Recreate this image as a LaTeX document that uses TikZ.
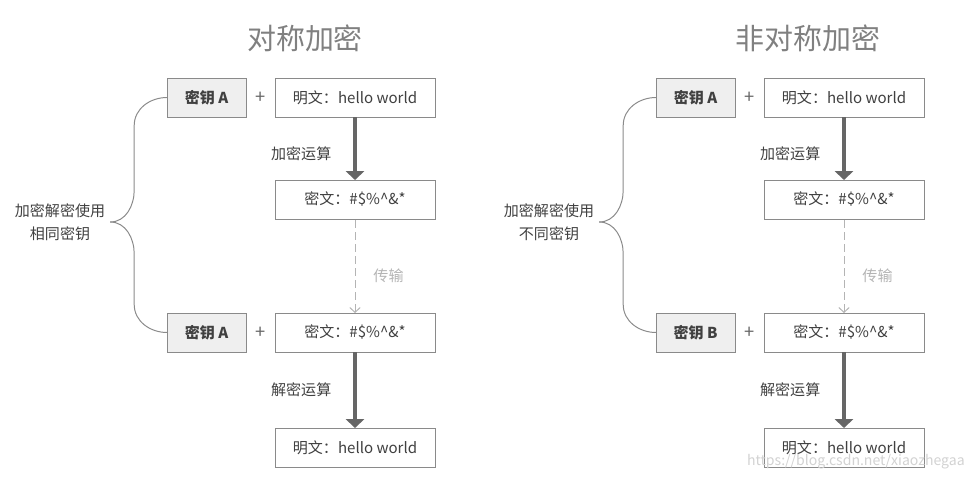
\documentclass[tikz,border=0pt]{standalone}
\usepackage{fontspec}
\setmainfont{Noto Sans CJK SC}
\usepackage{tikz}
\usetikzlibrary{arrows.meta,positioning,calc}
\definecolor{ink}{HTML}{404040}
\definecolor{boxline}{HTML}{8A8A8A}
\definecolor{keyfill}{HTML}{EFEFEF}
\definecolor{arrowgray}{HTML}{666666}
\definecolor{dashgray}{HTML}{B4B4B4}
\definecolor{titlegray}{HTML}{808080}
\definecolor{wmgray}{HTML}{D2D2D2}
\newcommand{\boxfont}{\fontsize{10.7}{16.3}\selectfont}

\begin{document}
\begin{tikzpicture}

\tikzset{
	txt/.style={
		draw=boxline,
		rectangle,
		line width=0.7pt,
		fill=white,
		text=ink,
		font=\boxfont,
		minimum width=4cm,
		minimum height=0.975cm,
		inner sep=0pt,
		outer sep=0pt},
	key/.style={
		txt,
		fill=keyfill,
		minimum width=1.975cm,
		font=\boxfont\bfseries},
	plus/.style={
		text=arrowgray,
		font=\fontsize{13}{13}\selectfont,
		inner sep=0pt},
	ttl/.style={
		text=titlegray,
		font=\fontsize{20.6}{24}\selectfont},
	lbl/.style={
		text=ink,
		font=\boxfont,
		inner sep=0pt},
	arrin/.style={
		{Triangle[length=0.22cm,width=0.45cm]}-,
		line width=2.4pt,
		draw=arrowgray},
	arrdash/.style={
		{Straight Barb[length=0.12cm,width=0.26cm]}-,
		draw=dashgray,
		line width=0.7pt,
		dash pattern=on 0.2cm off 0.1cm},
	brace/.style={
		draw=boxline,
		line width=0.7pt}
}

\useasboundingbox (0,0) rectangle (24.35,-12.075);

% symmetric
\node[ttl] (titleA) at (7.625,-0.95) {对称加密};

\node[txt] (plainA) at (8.875,-2.4375) {明文：hello world};
\node[key,left=0.725cm of plainA] (keyA) {密钥 A};
\node[plus] (plusA) at ($(keyA.east)!0.5!(plainA.west)$) {+};

\node[txt,below=1.575cm of plainA] (cipherA) {密文：\#\$\%\textasciicircum\&*}
	edge[arrin] node[lbl,pos=0.41,left=0.55cm] {加密运算} (plainA);

\node[txt,below=2.35cm of cipherA] (cipherA2) {密文：\#\$\%\textasciicircum\&*}
	edge[arrdash] node[lbl,text=dashgray,pos=0.4,right=0.45cm] {传输} (cipherA);
\node[key,left=0.725cm of cipherA2] (keyA2) {密钥 A};
\node[plus] (plusA2) at ($(keyA2.east)!0.5!(cipherA2.west)$) {+};

\node[txt,below=1.9cm of cipherA2] (plainA2) {明文：hello world}
	edge[arrin] node[lbl,pos=0.51,left=0.55cm] {解密运算} (cipherA2);

\node[lbl,align=center] (sameA) at (1.5,-5.55) {加密解密使用\\相同密钥};
\draw[brace] ([xshift=0.12cm]sameA.east) to[out=0,in=-90] ++(0.6,0.8) coordinate (bA)
	-- ($(bA |- keyA.west)+(0,-0.7)$) to[out=90,in=180] (keyA.west);
\draw[brace] ([xshift=0.12cm]sameA.east) to[out=0,in=90] ++(0.6,-0.8) coordinate (bA2)
	-- ($(bA2 |- keyA2.west)+(0,0.7)$) to[out=-90,in=180] (keyA2.west);

% asymmetric
\node[ttl] (titleB) at (20.2,-0.95) {非对称加密};

\node[txt] (plainB) at (21.1,-2.4375) {明文：hello world};
\node[key,left=0.725cm of plainB] (keyB) {密钥 A};
\node[plus] (plusB) at ($(keyB.east)!0.5!(plainB.west)$) {+};

\node[txt,below=1.575cm of plainB] (cipherB) {密文：\#\$\%\textasciicircum\&*}
	edge[arrin] node[lbl,pos=0.41,left=0.55cm] {加密运算} (plainB);

\node[txt,below=2.35cm of cipherB] (cipherB2) {密文：\#\$\%\textasciicircum\&*}
	edge[arrdash] node[lbl,text=dashgray,pos=0.4,right=0.45cm] {传输} (cipherB);
\node[key,left=0.725cm of cipherB2] (keyB2) {密钥 B};
\node[plus] (plusB2) at ($(keyB2.east)!0.5!(cipherB2.west)$) {+};

\node[txt,below=1.9cm of cipherB2] (plainB2) {明文：hello world}
	edge[arrin] node[lbl,pos=0.51,left=0.55cm] {解密运算} (cipherB2);

\node[lbl,align=center] (diffB) at (13.725,-5.55) {加密解密使用\\不同密钥};
\draw[brace] ([xshift=0.12cm]diffB.east) to[out=0,in=-90] ++(0.6,0.8) coordinate (bB)
	-- ($(bB |- keyB.west)+(0,-0.7)$) to[out=90,in=180] (keyB.west);
\draw[brace] ([xshift=0.12cm]diffB.east) to[out=0,in=90] ++(0.6,-0.8) coordinate (bB2)
	-- ($(bB2 |- keyB2.west)+(0,0.7)$) to[out=-90,in=180] (keyB2.west);

\node[text=wmgray,font=\fontsize{10}{10}\selectfont,anchor=east,inner sep=0pt] (wm) at (24.125,-11.55) {https://blog.csdn.net/xiaozhegaa};

\end{tikzpicture}
\end{document}
